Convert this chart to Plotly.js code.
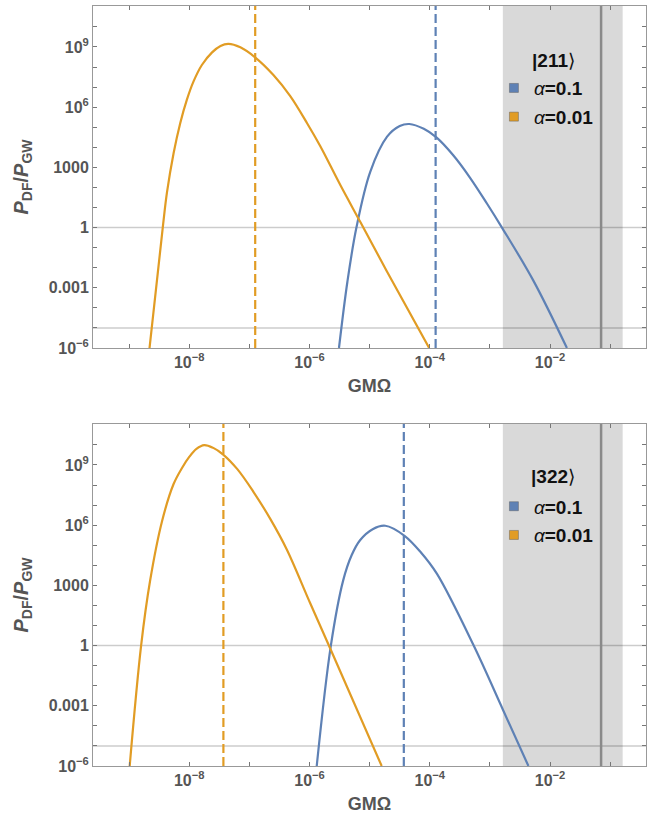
<!DOCTYPE html>
<html>
<head>
<meta charset="utf-8">
<script src="https://cdn.plot.ly/plotly-3.0.1.min.js"></script>
<style>body{margin:0;padding:0;background:#fff}#chart{width:647px;height:816px}</style>
</head>
<body>
<div id="chart"></div>
<script>
// ---- data (log10 of GMΩ and of P_DF/P_GW) ----
const top211BlueLogX   = [-5.51, -5.37, -5.22, -4.99, -4.71, -4.50, -4.34, -4.10, -3.89, -3.61, -3.33, -3.05, -2.80, -2.28, -1.72];
const top211BlueLogY   = [-6.00, -2.70,  0.00,  2.78,  4.53,  5.06,  5.16,  4.92,  4.49,  3.60,  2.48,  1.20,  0.00, -2.63, -6.00];
const top211OrangeLogX = [-8.66, -8.44, -8.37, -8.26, -8.15, -8.04, -7.93, -7.79, -7.62, -7.48, -7.35, -7.15, -6.90, -6.60, -6.32, -6.04, -5.82, -5.49, -5.15, -4.71, -4.01];
const top211OrangeLogY = [-6.00,  0.00,  1.75,  3.70,  5.20,  6.36,  7.27,  8.10,  8.73,  9.05,  9.15,  8.98,  8.47,  7.60,  6.55,  5.20,  4.05,  2.13,  0.25, -2.20, -6.00];
const bot322BlueLogX   = [-5.88, -5.645, -5.44, -5.30, -5.16, -4.95, -4.74, -4.42, -4.15, -3.88, -3.27, -2.78, -2.36];
const bot322BlueLogY   = [-6.00,  0.00,   3.25,  4.50,  5.25,  5.80,  5.97,  5.47,  4.65,  3.57,  0.00, -3.22, -6.00];
const bot322OrangeLogX = [-8.99, -8.80, -8.65, -8.45, -8.26, -8.12, -8.00, -7.88, -7.75, -7.60, -7.44, -7.20, -6.93, -6.65, -6.38, -5.99, -5.63, -4.80];
const bot322OrangeLogY = [-6.00,  0.00,  3.24,  6.22,  8.05,  8.85,  9.40,  9.80,  9.99,  9.85,  9.53,  8.79,  7.65,  6.30,  4.80,  2.12, -0.32, -6.00];

const states       = ['|211', '|322'];
const alphaLabels  = ['0.1', '0.01'];
const dashedTop    = [1.25e-4, 1.25e-7];   // blue, orange
const dashedBottom = [3.7e-5, 3.7e-8];
const bandRange    = [1.64e-3, 0.161];
const darkLineX    = 0.0705;
const hLinesY      = [1, 1e-5];

const xTickVals = [1e-10,1e-9,1e-8,1e-7,1e-6,1e-5,1e-4,1e-3,1e-2,1e-1,1];
const xTickText = ['', '', '10<sup>−8</sup>', '', '10<sup>−6</sup>', '', '10<sup>−4</sup>', '', '10<sup>−2</sup>', '', ''];
const yTickVals = [1e-6,1e-5,1e-4,1e-3,1e-2,1e-1,1,1e1,1e2,1e3,1e4,1e5,1e6,1e7,1e8,1e9,1e10,1e11];
const yTickText = ['10<sup>−6</sup>','','','0.001','','','1','','','1000','','','10<sup>6</sup>','','','10<sup>9</sup>','',''];

const BLUE = '#5E81B5', ORANGE = '#E19C24';
const pw = v => v.map(e => Math.pow(10, e));

const traces = [
  {x: pw(top211BlueLogX), y: pw(top211BlueLogY), xaxis:'x', yaxis:'y', mode:'lines', line:{color:BLUE, width:2.2, shape:'spline', smoothing:1}, showlegend:false},
  {x: pw(top211OrangeLogX), y: pw(top211OrangeLogY), xaxis:'x', yaxis:'y', mode:'lines', line:{color:ORANGE, width:2.2, shape:'spline', smoothing:1}, showlegend:false},
  {x: pw(bot322BlueLogX), y: pw(bot322BlueLogY), xaxis:'x2', yaxis:'y2', mode:'lines', line:{color:BLUE, width:2.2, shape:'spline', smoothing:1}, showlegend:false},
  {x: pw(bot322OrangeLogX), y: pw(bot322OrangeLogY), xaxis:'x2', yaxis:'y2', mode:'lines', line:{color:ORANGE, width:2.2, shape:'spline', smoothing:1}, showlegend:false},
];
// legend swatches
[['legend','x','y'],['legend2','x2','y2']].forEach(([lg,xa,ya],k) => {
  [BLUE, ORANGE].forEach((c,i) => {
    traces.push({x:[null], y:[null], xaxis:xa, yaxis:ya, mode:'markers', legend:lg, legendgroup:lg+i,
      name:'<i>α</i><b>=' + alphaLabels[i] + '</b>',
      marker:{symbol:'square', size:9, color:c, line:{color:'rgba(90,90,90,0.45)', width:1}}});
  });
});

const FONT = 'Liberation Sans, Arial, sans-serif';
const tickFont = {family:FONT, size:16, color:'#555', weight:'bold'};
function xAxis(anchor){ return {type:'log', range:[-9.6,-0.405], anchor:anchor, tickvals:xTickVals, ticktext:xTickText,
  ticks:'inside', ticklen:4, tickcolor:'#777', showline:true, mirror:'ticks', linecolor:'#999', linewidth:1,
  showgrid:false, zeroline:false, tickfont:tickFont,
  title:{text:'<b>GMΩ</b>', font:{family:FONT, size:18, color:'#555'}, standoff:9}}; }
function yAxis(anchor, dom){ return {type:'log', range:[-6,11.04], domain:dom, anchor:anchor, tickvals:yTickVals, ticktext:yTickText,
  ticks:'inside', ticklen:4, tickcolor:'#777', showline:true, mirror:'ticks', linecolor:'#999', linewidth:1,
  showgrid:false, zeroline:false, tickfont:tickFont,
  title:{text:'<b><i>P</i><sub>DF</sub>/<i>P</i><sub>GW</sub></b>', font:{family:FONT, size:20, color:'#555'}, standoff:14}}; }

const shapes = [];
[['x','y',dashedTop],['x2','y2',dashedBottom]].forEach(([xa,ya,dash]) => {
  shapes.push({type:'rect', xref:xa, yref:ya+' domain', x0:bandRange[0], x1:bandRange[1], y0:0, y1:1, fillcolor:'#d9d9d9', line:{width:0}, layer:'below'});
  hLinesY.forEach(h => shapes.push({type:'line', xref:xa+' domain', yref:ya, x0:0, x1:1, y0:h, y1:h, line:{color:'rgba(0,0,0,0.2)', width:1.5}, layer:'below'}));
  shapes.push({type:'line', xref:xa, yref:ya+' domain', x0:darkLineX, x1:darkLineX, y0:0, y1:1, line:{color:'#8a8a8a', width:2.5}, layer:'below'});
  shapes.push({type:'line', xref:xa, yref:ya+' domain', x0:dash[0], x1:dash[0], y0:0, y1:1, line:{color:BLUE, width:2.2, dash:'9px,4px'}, layer:'above'});
  shapes.push({type:'line', xref:xa, yref:ya+' domain', x0:dash[1], x1:dash[1], y0:0, y1:1, line:{color:ORANGE, width:2.2, dash:'9px,4px'}, layer:'above'});
});

function legendBox(y){ return {x:0.725, y:y, xanchor:'left', yanchor:'top', bgcolor:'rgba(0,0,0,0)',
  font:{family:FONT, size:19, color:'#111'}, tracegroupgap:1, itemclick:false}; }

const annotations = states.map((s,k) => ({xref:'paper', yref:'paper', x:0.832, y:[0.929,0.381][k], xanchor:'center', yanchor:'middle',
  showarrow:false, text:'<b>'+s+'</b><span style="font-family:DejaVu Sans">⟩</span>', font:{family:FONT, size:19, color:'#111'}}));

const layout = {
  width:647, height:816, margin:{l:93, r:1, t:6, b:50}, paper_bgcolor:'#fff', plot_bgcolor:'rgba(0,0,0,0)',
  xaxis: xAxis('y'), yaxis: yAxis('x',[0.55,1]),
  xaxis2: xAxis('y2'), yaxis2: yAxis('x2',[0,0.45]),
  shapes: shapes, annotations: annotations,
  legend: legendBox(0.917),
  legend2: legendBox(0.3666),
  showlegend:true
};
Plotly.newPlot('chart', traces, layout, {staticPlot:true, displayModeBar:false});
</script>
</body>
</html>
